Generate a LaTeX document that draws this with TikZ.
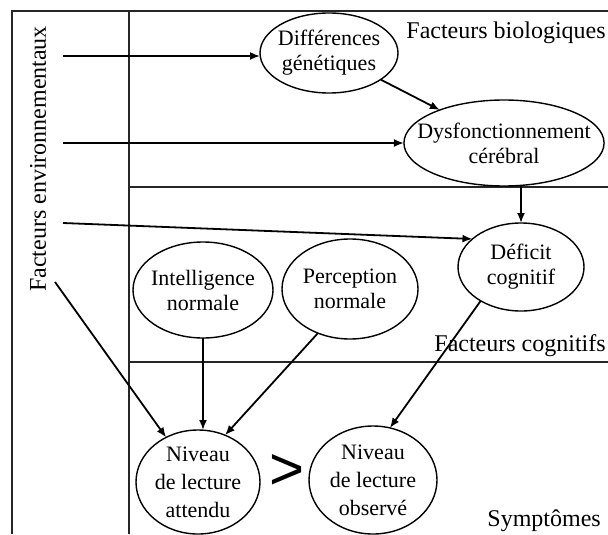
\documentclass[tikz,border=0pt]{standalone}
\usepackage{fontspec}
\setmainfont{Liberation Serif}
\newfontfamily\gtfont{Liberation Sans}
\usetikzlibrary{arrows.meta,shapes.geometric,positioning}
\tikzset{
  base/.style={font=\fontsize{11}{12.5}\selectfont, align=center, inner sep=-8pt, outer sep=0mm},
  oval/.style={ellipse, draw=black, line width=0.7pt, fill=white, base},
  zone/.style={font=\fontsize{12}{14}\selectfont, inner sep=0pt},
  frame/.style={line width=0.7pt, color=black!85},
  arrow/.style={-{Latex[length=5pt,width=4pt]}, line width=0.9pt, color=black}
}

\begin{document}
\begin{tikzpicture}[x=0.5pt, y=-0.5pt]
  \useasboundingbox (0,0) rectangle (608,534);

  % cadre et zones
  \draw[frame] (12,534) -- (12,11) -- (608,11);
  \draw[frame] (129,11) -- (129,534);
  \draw[frame] (129,187) -- (608,187);
  \draw[frame] (129,362) -- (608,362);

  \node[zone, rotate=90] (env) at (38,159) {Facteurs environnementaux};
  \node[zone, anchor=west] (bio) at (406,33) {Facteurs biologiques};
  \node[zone, anchor=west] (cog) at (434,346) {Facteurs cognitifs};
  \node[zone, anchor=west] (sym) at (487,521) {Symptômes};

  % facteurs
  \node[oval, minimum width=69pt, minimum height=40pt] (gen) at (329,53) {Différences\\génétiques};
  \node[oval, minimum width=99pt, minimum height=43pt] (dys) at (504,143) {Dysfonctionnement\\cérébral};
  \node[oval, minimum width=63pt, minimum height=44pt] (def) at (521,267) {Déficit\\cognitif};
  \node[oval, minimum width=70pt, minimum height=48pt] (intel) at (203,290) {Intelligence\\normale};
  \node[oval, minimum width=68pt, minimum height=50pt] (perc) at (350,289) {Perception\\normale};
  \node[oval, minimum width=62pt, minimum height=52pt, font=\fontsize{11}{14}\selectfont] (att) at (198,482) {Niveau\\de lecture\\attendu};
  \node[oval, minimum width=64pt, minimum height=54pt, font=\fontsize{11}{14}\selectfont] (obs) at (373,480) {Niveau\\de lecture\\observé};
  \node[inner sep=0pt, font=\gtfont\fontsize{30}{30}\selectfont] (gt) at (287,472) {>};

  \coordinate (e1) at (63,56);
  \coordinate (e2) at (63,143);
  \coordinate (e3) at (63,223);
  \coordinate (e4) at (55,282);

  \draw[arrow] (e1) -- (e1 -| gen.west);
  \draw[arrow] (e2) -- (dys.west);
  \draw[arrow] (e3) -- (def.150);
  \draw[arrow] (e4) -- (att);
  \draw[arrow] (gen) -- (dys);
  \draw[arrow] (dys.south -| def.north) -- (def.north);
  \draw[arrow] (intel.south) -- (intel.south |- att.north);
  \draw[arrow] (perc.234) -- (att.60);
  \draw[arrow] (def.220) -- (obs.72);
\end{tikzpicture}
\end{document}
